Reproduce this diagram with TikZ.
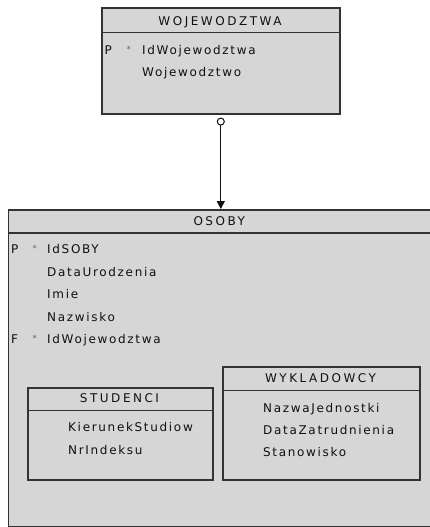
\documentclass[tikz,border=0pt]{standalone}
\usepackage{fontspec}
\setmainfont{DejaVu Sans}[LetterSpace=14]
\newfontfamily\headfont{DejaVu Sans}[LetterSpace=21]
\usetikzlibrary{arrows.meta}
\definecolor{boxfill}{HTML}{D6D6D6}
\definecolor{edge}{HTML}{333333}
\definecolor{ink}{HTML}{101010}
\definecolor{star}{HTML}{606060}
\begin{document}
\begin{tikzpicture}[x=1pt,y=-1pt,
  tbl/.style={draw=edge, fill=boxfill, line width=1.6pt, rectangle,
    anchor=north west, inner sep=0pt},
  sep/.style={draw=edge, line width=1.6pt},
  txt/.style={font=\fontsize{12}{14}\selectfont, text=ink, inner sep=0pt},
  title/.style={font=\headfont\fontsize{12}{14}\selectfont, text=ink, inner sep=0pt, anchor=base},
  attr/.style={txt, anchor=base west},
  flag/.style={txt, anchor=base west},
  reqmark/.style={font=\fontsize{8.5}{9}\selectfont, text=star, anchor=base west, inner sep=0pt},
  rel/.style={draw=ink, line width=1pt}
]
\useasboundingbox (0,0) rectangle (430,527);
\fill[white] (0,0) rectangle (430,527);

% ---- OSOBY (supertype) ----
\node[tbl, minimum width=423.5pt, minimum height=317pt] (osoby) at (7.5,209) {};
\draw[sep] (7.5,233) coordinate (osl) -- (431,233) coordinate (osr);
\node[title] (osobyT) at (219.25,225.5) {OSOBY};
\node[flag] (osP1) at (11,253.5) {P};
\node[reqmark] (osS1) at (32.5,251.5) {*};
\node[attr] (osA1) at (47,253.5) {IdSOBY};
\node[attr] (osA2) at (47,276) {DataUrodzenia};
\node[attr] (osA3) at (47,298.5) {Imie};
\node[attr] (osA4) at (47,321) {Nazwisko};
\node[flag] (osP5) at (11,343.5) {F};
\node[reqmark] (osS5) at (32.5,341.5) {*};
\node[attr] (osA5) at (47,343.5) {IdWojewodztwa};

% ---- STUDENCI (subtype) ----
\node[tbl, minimum width=185pt, minimum height=92pt] (stud) at (27,387) {};
\draw[sep] (27,410.5) -- (212,410.5);
\node[title] (studT) at (119.5,402.5) {STUDENCI};
\node[attr] (stA1) at (68,431.5) {KierunekStudiow};
\node[attr] (stA2) at (68,454.5) {NrIndeksu};

% ---- WYKLADOWCY (subtype) ----
\node[tbl, minimum width=197pt, minimum height=113pt] (wyk) at (222,366) {};
\draw[sep] (222,390.5) -- (419,390.5);
\node[title] (wykT) at (320.5,382.5) {WYKLADOWCY};
\node[attr] (wyA1) at (263,412.5) {NazwaJednostki};
\node[attr] (wyA2) at (263,434.5) {DataZatrudnienia};
\node[attr] (wyA3) at (263,456.5) {Stanowisko};

% ---- WOJEWODZTWA ----
\node[tbl, minimum width=238pt, minimum height=105.5pt] (woj) at (101,7.5) {};
\draw[sep] (101,32.5) -- (339,32.5);
\node[title] (wojT) at (220,25.5) {WOJEWODZTWA};
\node[flag] (wjP1) at (104.5,54.5) {P};
\node[reqmark] (wjS1) at (126.5,52.5) {*};
\node[attr] (wjA1) at (142,54.5) {IdWojewodztwa};
\node[attr] (wjA2) at (142,76.5) {Wojewodztwo};

% ---- relationship: optional one-to-many ----
\draw[rel, {Circle[open, length=8pt, width=8pt, line width=1pt, fill=white]}-{Triangle[length=8pt, width=8pt]},
  shorten <=3pt] (woj.south) -- (woj.south |- osoby.north);
\end{tikzpicture}
\end{document}
